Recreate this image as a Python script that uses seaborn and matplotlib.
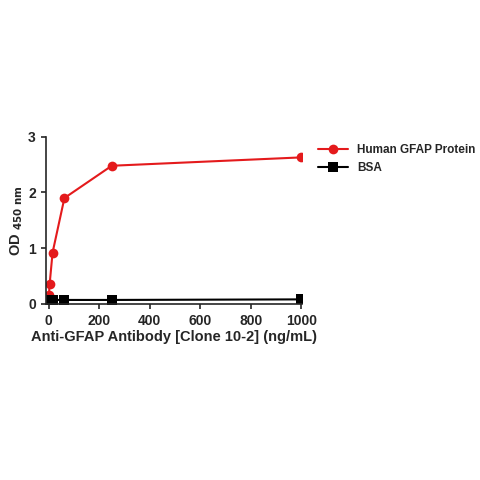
import matplotlib
matplotlib.use("Agg")
import matplotlib.pyplot as plt
import seaborn as sns
import pandas as pd

conc = [0.98, 3.9, 15.6, 62.5, 250, 1000]
gfap = [0.15, 0.35, 0.92, 1.90, 2.48, 2.63]
bsa = [0.06, 0.06, 0.07, 0.07, 0.07, 0.08]

df = pd.DataFrame({
    "conc": conc * 2,
    "od": gfap + bsa,
    "sample": ["Human GFAP Protein"] * len(conc) + ["BSA"] * len(conc),
})

sns.set_style("ticks")
plt.rcParams["font.family"] = ["Liberation Sans", "DejaVu Sans"]
plt.rcParams["font.weight"] = "bold"

fig = plt.figure(figsize=(4.8, 4.8), dpi=100)
ax = fig.add_axes([0.095, 0.367, 0.535, 0.348])
sns.lineplot(data=df, x="conc", y="od", hue="sample", style="sample",
             palette={"Human GFAP Protein": "#e41a1c", "BSA": "black"},
             markers={"Human GFAP Protein": "o", "BSA": "s"}, dashes=False,
             markersize=7, markeredgewidth=0, linewidth=1.5, ax=ax)
ax.set_xlim(-12, 1005)
ax.set_ylim(0, 3)
ax.set_xticks(range(0, 1001, 200))
ax.set_yticks([0, 1, 2, 3])
ax.tick_params(labelsize=10, width=1.2)
for lab in ax.get_xticklabels() + ax.get_yticklabels():
    lab.set_fontweight("bold")
ax.set_xlabel("Anti-GFAP Antibody [Clone 10-2] (ng/mL)", fontsize=10.5, fontweight="bold", labelpad=2)
ax.set_ylabel("OD $_{\\mathbf{450\\ nm}}$", fontsize=10.5, fontweight="bold", labelpad=2)
for s in ["left", "bottom"]:
    ax.spines[s].set_linewidth(1.2)
sns.despine(ax=ax)
ax.legend(loc="upper left", bbox_to_anchor=(1.02, 1.02), frameon=False,
          prop={"size": 8.5, "weight": "bold"}, handlelength=2.5)
fig.savefig("out.png", dpi=100)
